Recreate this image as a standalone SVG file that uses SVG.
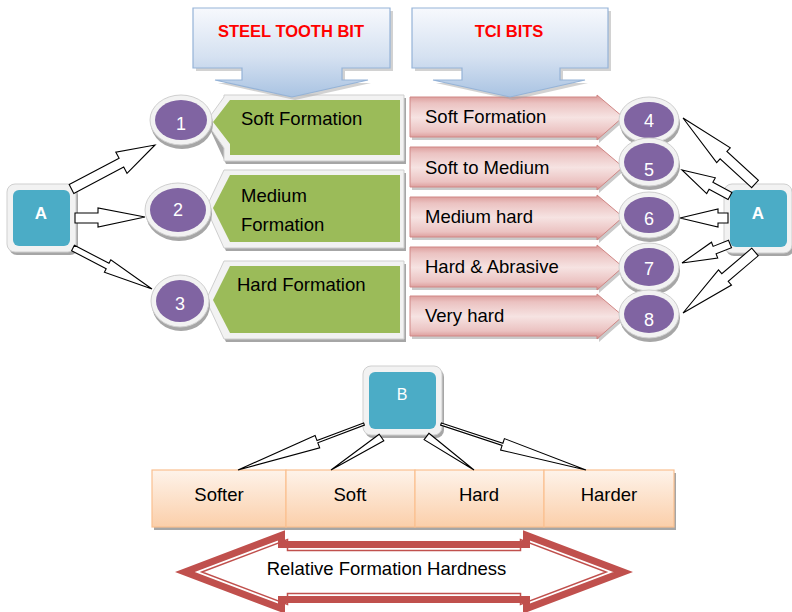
<svg xmlns="http://www.w3.org/2000/svg" width="792" height="612" viewBox="0 0 792 612">
<defs>
  <linearGradient id="blueGrad" x1="0" y1="0" x2="0" y2="1">
    <stop offset="0" stop-color="#f7f9fd"/>
    <stop offset="0.55" stop-color="#d5e1f1"/>
    <stop offset="1" stop-color="#a9c3e2"/>
  </linearGradient>
  <linearGradient id="pinkGrad" x1="0" y1="0" x2="0" y2="1">
    <stop offset="0" stop-color="#d99694"/>
    <stop offset="0.18" stop-color="#ebc2c1"/>
    <stop offset="0.5" stop-color="#f6e3e2"/>
    <stop offset="0.82" stop-color="#ebc2c1"/>
    <stop offset="1" stop-color="#d58b89"/>
  </linearGradient>
  <linearGradient id="peachGrad" x1="0" y1="0" x2="0" y2="1">
    <stop offset="0" stop-color="#fef3ea"/>
    <stop offset="1" stop-color="#fbcfaa"/>
  </linearGradient>
</defs>
<style>
  text { font-family: "Liberation Sans", Arial, sans-serif; }
  .lbl { font-size: 18.5px; fill: #000000; }
  .title { font-size: 16.5px; font-weight: bold; fill: #ff0000; text-anchor: middle; }
  .num { font-size: 18px; fill: #ffffff; text-anchor: middle; }
  .boxlbl { font-size: 17px; font-weight: bold; fill: #ffffff; text-anchor: middle; }
  .cell { font-size: 18.5px; fill: #000000; text-anchor: middle; }
  .shadow { fill: #a6a6a6; }
  .frame { fill: #f2f2f2; stroke: #cfcfcf; stroke-width: 1; }
  .green { fill: #9bbb59; }
  .teal { fill: #4bacc6; }
  .purple { fill: #8064a2; }
  .pink { fill: url(#pinkGrad); stroke: #d08785; stroke-width: 1; }
  .callout { fill: url(#blueGrad); stroke: #95b3d7; stroke-width: 1.2; }
  .peach { fill: url(#peachGrad); stroke: #fac090; stroke-width: 1.2; }
  .conn { fill: #ffffff; stroke: #000000; stroke-width: 1.1; stroke-linejoin: miter; }
</style>

<!-- Green steel tooth bit boxes -->
<g id="green1">
  <polygon class="shadow" points="226,98 406,98 406,164 226,164 208,125"/>
  <polygon class="frame" points="224,95 404,95 404,161 224,161 224,148 206,122 224,97"/>
  <polygon class="green" points="230,100 400,100 400,155 230,155 230,144 213,122"/>
  <text class="lbl" x="241" y="125">Soft Formation</text>
</g>
<g id="green2">
  <polygon class="shadow" points="226,173 406,173 406,251 226,251 208,211"/>
  <polygon class="frame" points="224,170 404,170 404,248 224,248 206,208"/>
  <polygon class="green" points="230,175 400,175 400,242 230,242 213,208"/>
  <text class="lbl" x="241" y="202">Medium</text>
  <text class="lbl" x="241" y="231">Formation</text>
</g>
<g id="green3">
  <polygon class="shadow" points="226,264 406,264 406,342 226,342 208,303"/>
  <polygon class="frame" points="224,261 404,261 404,339 224,339 206,300"/>
  <polygon class="green" points="230,266 400,266 400,333 230,333 213,300"/>
  <text class="lbl" x="237" y="291">Hard Formation</text>
</g>

<!-- Pink TCI arrows -->
<g id="pink1">
  <polygon class="shadow" opacity="0.6" points="412,100 599,100 599,97 625,120 599,143 599,140 412,140"/>
  <polygon class="pink" points="410,97 597,97 597,95 623,117 597,140 597,137 410,137"/>
  <text class="lbl" x="425" y="123">Soft Formation</text>
</g>
<g id="pink2">
  <polygon class="shadow" opacity="0.6" points="412,150 599,150 599,147 625,170 599,193 599,190 412,190"/>
  <polygon class="pink" points="410,147 597,147 597,145 623,167 597,190 597,187 410,187"/>
  <text class="lbl" x="425" y="174">Soft to Medium</text>
</g>
<g id="pink3">
  <polygon class="shadow" opacity="0.6" points="412,200 599,200 599,197 625,220 599,243 599,240 412,240"/>
  <polygon class="pink" points="410,197 597,197 597,195 623,217 597,240 597,237 410,237"/>
  <text class="lbl" x="425" y="223">Medium hard</text>
</g>
<g id="pink4">
  <polygon class="shadow" opacity="0.6" points="412,250 599,250 599,247 625,270 599,293 599,290 412,290"/>
  <polygon class="pink" points="410,247 597,247 597,245 623,267 597,290 597,287 410,287"/>
  <text class="lbl" x="425" y="273">Hard &amp; Abrasive</text>
</g>
<g id="pink5">
  <polygon class="shadow" opacity="0.6" points="412,299 599,299 599,296 625,319 599,342 599,339 412,339"/>
  <polygon class="pink" points="410,296 597,296 597,294 623,316 597,339 597,336 410,336"/>
  <text class="lbl" x="425" y="322">Very hard</text>
</g>

<!-- Top callouts -->
<g id="steel">
  <polygon class="shadow" opacity="0.5" points="196,11 393,11 393,71 345,71 345,83 371,83 295,100 218,83 245,83 245,71 196,71"/>
  <polygon class="callout" points="193,8 390,8 390,68 342,68 342,80 368,80 292,97 215,80 242,80 242,68 193,68"/>
  <text class="title" x="291" y="37">STEEL TOOTH BIT</text>
</g>
<g id="tci">
  <polygon class="shadow" opacity="0.5" points="415,11 611,11 611,71 563,71 563,83 588,83 513,100 436,83 465,83 465,71 415,71"/>
  <polygon class="callout" points="412,8 608,8 608,68 560,68 560,80 585,80 510,97 433,80 462,80 462,68 412,68"/>
  <text class="title" x="509" y="37">TCI BITS</text>
</g>

<!-- Circles left -->
<g id="c1">
  <ellipse class="shadow" cx="182" cy="124" rx="31" ry="25"/>
  <ellipse class="frame" cx="181" cy="120" rx="31" ry="25"/>
  <ellipse class="purple" cx="181" cy="120" rx="26" ry="20"/>
  <text class="num" x="181" y="130">1</text>
</g>
<g id="c2">
  <ellipse class="shadow" cx="179" cy="214" rx="33" ry="27"/>
  <ellipse class="frame" cx="178" cy="210" rx="33" ry="27"/>
  <ellipse class="purple" cx="178" cy="210" rx="28" ry="22"/>
  <text class="num" x="178" y="216">2</text>
</g>
<g id="c3">
  <ellipse class="shadow" cx="181" cy="305" rx="29" ry="26"/>
  <ellipse class="frame" cx="180" cy="301" rx="29" ry="26"/>
  <ellipse class="purple" cx="180" cy="301" rx="24" ry="21"/>
  <text class="num" x="180" y="310">3</text>
</g>

<!-- Circles right -->
<g id="c4">
  <ellipse class="shadow" cx="650" cy="124" rx="30" ry="23"/>
  <ellipse class="frame" cx="649" cy="120" rx="30" ry="23"/>
  <ellipse class="purple" cx="649" cy="120" rx="25" ry="18"/>
  <text class="num" x="649" y="127">4</text>
</g>
<g id="c5">
  <ellipse class="shadow" cx="650" cy="166" rx="30" ry="24"/>
  <ellipse class="frame" cx="649" cy="162" rx="30" ry="24"/>
  <ellipse class="purple" cx="649" cy="162" rx="25" ry="19"/>
  <text class="num" x="649" y="176">5</text>
</g>
<g id="c6">
  <ellipse class="shadow" cx="650" cy="219" rx="30" ry="23"/>
  <ellipse class="frame" cx="649" cy="215" rx="30" ry="23"/>
  <ellipse class="purple" cx="649" cy="215" rx="25" ry="18"/>
  <text class="num" x="649" y="225">6</text>
</g>
<g id="c7">
  <ellipse class="shadow" cx="650" cy="271" rx="30" ry="24"/>
  <ellipse class="frame" cx="649" cy="267" rx="30" ry="24"/>
  <ellipse class="purple" cx="649" cy="267" rx="25" ry="19"/>
  <text class="num" x="649" y="275">7</text>
</g>
<g id="c8">
  <ellipse class="shadow" cx="650" cy="318" rx="30" ry="24"/>
  <ellipse class="frame" cx="649" cy="314" rx="30" ry="24"/>
  <ellipse class="purple" cx="649" cy="314" rx="25" ry="19"/>
  <text class="num" x="649" y="326">8</text>
</g>

<!-- A boxes -->
<g id="boxA_left">
  <rect class="shadow" x="9" y="187" width="69" height="68" rx="8"/>
  <rect class="frame" x="7" y="184" width="69" height="68" rx="8"/>
  <rect class="teal" x="13" y="190" width="57" height="56" rx="6"/>
  <text class="boxlbl" x="41" y="219">A</text>
</g>
<g id="boxA_right">
  <rect class="shadow" x="726" y="187" width="68" height="69" rx="8"/>
  <rect class="frame" x="724" y="184" width="68" height="69" rx="8"/>
  <rect class="teal" x="730" y="190" width="57" height="57" rx="6"/>
  <text class="boxlbl" x="758" y="219">A</text>
</g>
<g id="boxB">
  <rect class="shadow" x="365" y="369" width="79" height="69" rx="8"/>
  <rect class="frame" x="363" y="366" width="79" height="69" rx="8"/>
  <rect class="teal" x="369" y="372" width="67" height="57" rx="6"/>
  <text class="num" style="font-size:16px" x="402" y="400">B</text>
</g>

<!-- Hardness scale -->
<g id="softer">
  <rect class="shadow" x="154" y="473" width="134" height="57"/>
  <rect class="peach" x="152" y="470" width="134" height="57"/>
  <text class="cell" x="219" y="501">Softer</text>
</g>
<g id="soft">
  <rect class="shadow" x="288" y="473" width="129" height="57"/>
  <rect class="peach" x="286" y="470" width="129" height="57"/>
  <text class="cell" x="350" y="501">Soft</text>
</g>
<g id="hard">
  <rect class="shadow" x="417" y="473" width="129" height="57"/>
  <rect class="peach" x="415" y="470" width="129" height="57"/>
  <text class="cell" x="479" y="501">Hard</text>
</g>
<g id="harder">
  <rect class="shadow" x="546" y="473" width="130" height="57"/>
  <rect class="peach" x="544" y="470" width="130" height="57"/>
  <text class="cell" x="609" y="501">Harder</text>
</g>

<!-- Relative formation hardness double arrow -->
<g id="hardness_arrow">
  <polygon fill="#ffffff" stroke="#c0504d" stroke-width="7" stroke-linejoin="miter" points="184.9,572 281.5,535.4 281.5,544.5 526.5,544.5 526.5,535.4 623.1,572 526.5,608.6 526.5,599.5 281.5,599.5 281.5,608.6"/>
  <polygon fill="none" stroke="#c0504d" stroke-width="1.5" stroke-linejoin="miter" points="201.8,572 287.5,539.6 287.5,550.5 520.5,550.5 520.5,539.6 606.2,572 520.5,604.4 520.5,593.5 287.5,593.5 287.5,604.4"/>
  <text class="cell" x="386.5" y="575">Relative Formation Hardness</text>
</g>

<!-- Connectors -->
<g id="connectors">
  <polygon class="conn" points="69.2,184.6 119.1,158.3 115.8,152.1 155,145 127.0,173.3 123.7,167.1 73.8,193.4"/>
  <polygon class="conn" points="75,213 98,213 98,208 145,217 98,227 98,223 75,223"/>
  <polygon class="conn" points="74.4,245.3 109.0,263.3 110.8,259.8 152,289 104.4,272.2 106.2,268.7 71.6,250.7"/>
  <polygon class="conn" points="751.6,187.7 720.1,158.9 716.7,162.6 683,118 730.3,147.8 726.9,151.5 758.4,180.3"/>
  <polygon class="conn" points="728.1,199.5 709.1,189.2 706.7,193.6 682,170 715.3,177.8 712.9,182.2 731.9,192.5"/>
  <polygon class="conn" points="728,213 718,213 718,209 680,218 718,227 718,223 728,223"/>
  <polygon class="conn" points="728.5,240.3 713.1,246.4 711.5,242.2 682,263 717.7,258.0 716.1,253.8 731.5,247.7"/>
  <polygon class="conn" points="751.8,248.2 721.8,273.7 718.5,269.9 683,313 731.5,285.1 728.2,281.3 758.2,255.8"/>
  <polygon class="conn" points="363.6,422.9 317.0,440.6 315.1,435.6 238,470 319.7,447.8 317.8,442.8 364.4,425.1"/>
  <polygon class="conn" points="379.2,434.3 331,470 383.8,440.7"/>
  <polygon class="conn" points="428.9,433.3 474,470 424.1,439.7"/>
  <polygon class="conn" points="441.4,422.9 502.9,443.2 504.4,438.6 586,470 500.6,450.0 502.1,445.4 440.6,425.1"/>
</g>
</svg>
